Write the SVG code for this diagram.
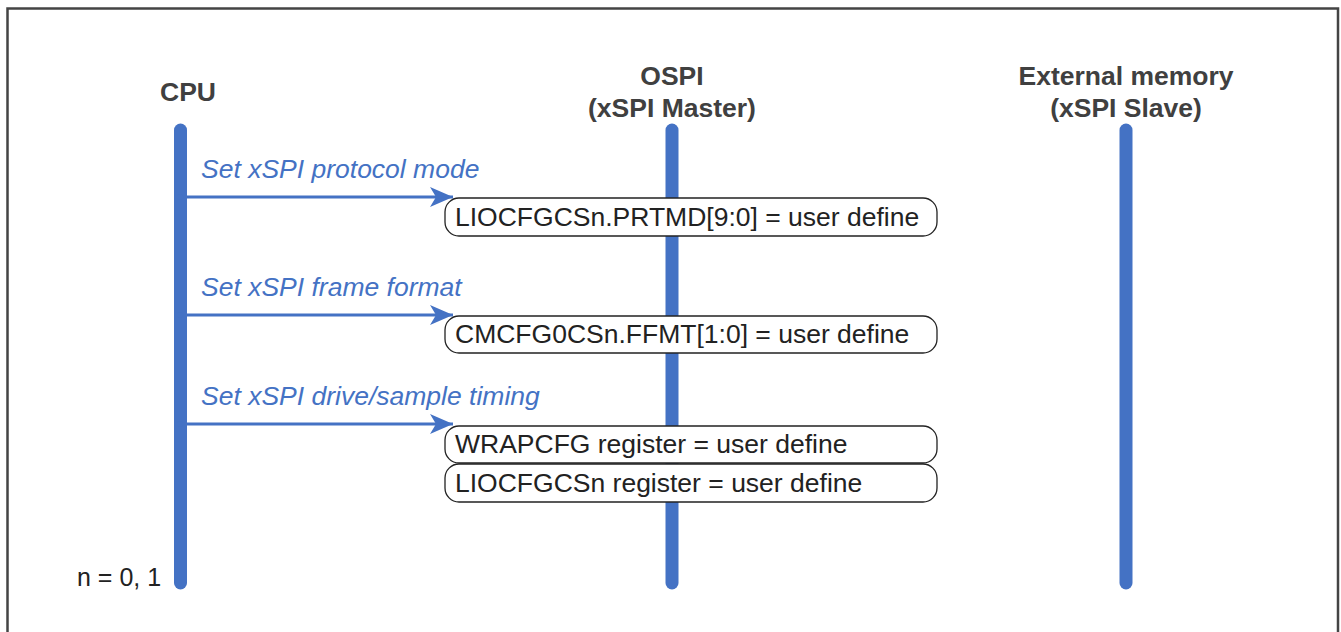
<svg xmlns="http://www.w3.org/2000/svg" width="1341" height="632" viewBox="0 0 1341 632">
<defs>
<marker id="ah" markerWidth="24" markerHeight="20" refX="23" refY="10" orient="auto" markerUnits="userSpaceOnUse">
<path d="M0,0 L23,10 L0,20 L6,10 Z" fill="#4472c4"/>
</marker>
<style>
.hdr{font-family:"Liberation Sans",Arial,sans-serif;font-weight:bold;font-size:26.5px;fill:#404040;text-anchor:middle}
.life{stroke:#4472c4;stroke-width:13;stroke-linecap:round;fill:none}
.msg{stroke:#4472c4;stroke-width:3;fill:none}
.lbl{font-family:"Liberation Sans",Arial,sans-serif;font-style:italic;font-size:26.5px;fill:#4472c4}
.box{fill:#fff;stroke:#222;stroke-width:1.3}
.btxt{font-family:"Liberation Sans",Arial,sans-serif;font-size:26.5px;fill:#222}
</style>
</defs>
<rect x="0" y="0" width="1341" height="632" fill="#fff"/>
<path d="M7.5,640 V8.5 H1338 V640" fill="none" stroke="#444" stroke-width="2.5"/>
<g id="cpu">
<text class="hdr" x="188" y="101">CPU</text>
<line class="life" x1="180.5" y1="130" x2="180.5" y2="583"/>
</g>
<g id="ospi">
<text class="hdr" x="672" y="85">OSPI</text>
<text class="hdr" x="672" y="117">(xSPI Master)</text>
<line class="life" x1="672" y1="130" x2="672" y2="583"/>
</g>
<g id="extmem">
<text class="hdr" x="1126" y="85">External memory</text>
<text class="hdr" x="1126" y="117">(xSPI Slave)</text>
<line class="life" x1="1126" y1="130" x2="1126" y2="583"/>
</g>
<g id="connectors">
<line class="msg" x1="180" y1="197" x2="453" y2="197" marker-end="url(#ah)"/>
<line class="msg" x1="180" y1="315" x2="453" y2="315" marker-end="url(#ah)"/>
<line class="msg" x1="180" y1="424" x2="453" y2="424" marker-end="url(#ah)"/>
<circle cx="180" cy="197" r="3" fill="#4472c4"/>
<circle cx="180" cy="315" r="3" fill="#4472c4"/>
<circle cx="180" cy="424" r="3" fill="#4472c4"/>
<text class="lbl" x="201" y="178">Set xSPI protocol mode</text>
<text class="lbl" x="201" y="296">Set xSPI frame format</text>
<text class="lbl" x="201" y="405">Set xSPI drive/sample timing</text>
</g>
<g id="box1">
<rect class="box" x="445" y="198" width="492" height="38" rx="14"/>
<text class="btxt" x="455" y="226">LIOCFGCSn.PRTMD[9:0] = user define</text>
</g>
<g id="box2">
<rect class="box" x="445" y="316" width="492" height="37" rx="14"/>
<text class="btxt" x="455" y="343">CMCFG0CSn.FFMT[1:0] = user define</text>
</g>
<g id="box3">
<rect class="box" x="445" y="426" width="492" height="37" rx="14"/>
<text class="btxt" x="455" y="453" fill="#000">WRAPCFG register = user define</text>
</g>
<g id="box4">
<rect class="box" x="445" y="464" width="492" height="38" rx="14"/>
<text class="btxt" x="455" y="492">LIOCFGCSn register = user define</text>
</g>
<g id="note">
<text class="btxt" x="77" y="586" style="font-size:25px">n = 0, 1</text>
</g>
</svg>
